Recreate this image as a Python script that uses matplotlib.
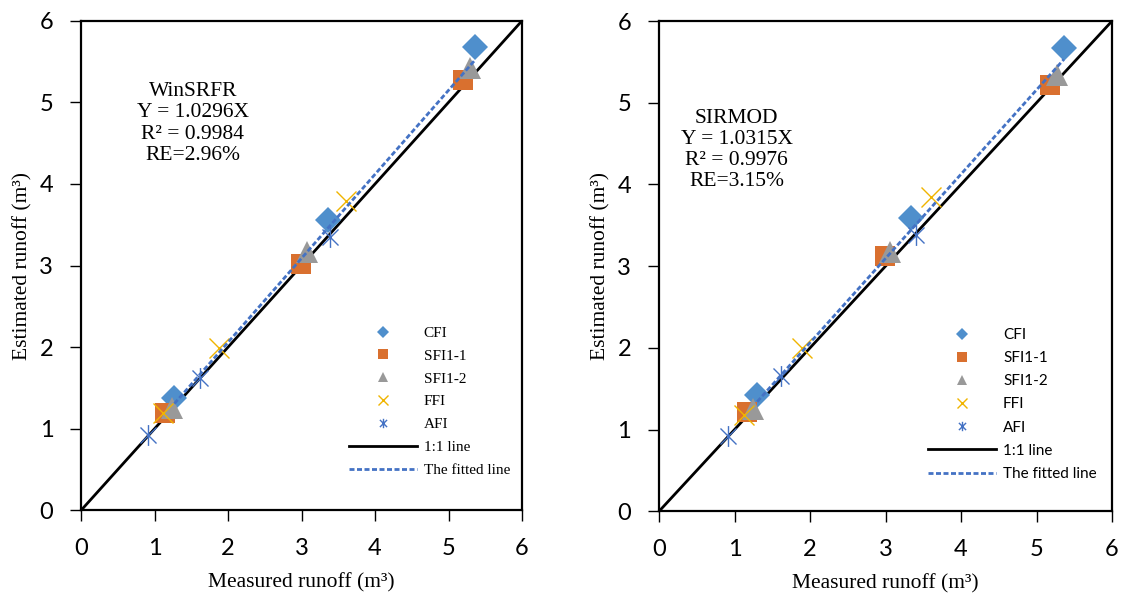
import matplotlib
matplotlib.use("Agg")
import matplotlib.pyplot as plt
from matplotlib.path import Path
import numpy as np

# 測定値と推定値 (m3)
cfi_w_x = [1.27, 3.36, 5.36]
cfi_w_y = [1.38, 3.56, 5.68]
sfi11_w_x = [1.14, 2.99, 5.20]
sfi11_w_y = [1.19, 3.02, 5.27]
sfi12_w_x = [1.24, 3.08, 5.29]
sfi12_w_y = [1.26, 3.16, 5.42]
ffi_w_x = [1.12, 1.88, 3.60]
ffi_w_y = [1.19, 1.99, 3.79]
afi_w_x = [0.91, 1.62, 3.39]
afi_w_y = [0.92, 1.62, 3.35]

cfi_s_x = [1.30, 3.34, 5.36]
cfi_s_y = [1.42, 3.59, 5.67]
sfi11_s_x = [1.16, 2.99, 5.18]
sfi11_s_y = [1.21, 3.12, 5.22]
sfi12_s_x = [1.25, 3.06, 5.27]
sfi12_s_y = [1.25, 3.17, 5.34]
ffi_s_x = [1.13, 1.90, 3.60]
ffi_s_y = [1.18, 2.00, 3.85]
afi_s_x = [0.92, 1.62, 3.41]
afi_s_y = [0.92, 1.65, 3.38]

slope_w = 1.0296
slope_s = 1.0315
ticks = [0, 1, 2, 3, 4, 5, 6]

serif = "Liberation Serif"
sans = "Lato"

# Excel風のアスタリスク (x + 縦線)
star = Path([(-1, -1), (1, 1), (-1, 1), (1, -1), (0, -1.3), (0, 1.3)],
            [Path.MOVETO, Path.LINETO, Path.MOVETO, Path.LINETO, Path.MOVETO, Path.LINETO])


def draw(ax, d, slope, note, note_xy, legend_font, legend_anchor):
    cfi_x, cfi_y, s1x, s1y, s2x, s2y, fx, fy, ax_, ay = d
    ax.plot(cfi_x, cfi_y, "D", color="#4F8FCC", ms=13, mew=0, label="CFI", zorder=3)
    ax.plot(s1x, s1y, "s", color="#D9702F", ms=15, mew=0, label="SFI1-1", zorder=3)
    ax.plot(s2x, s2y, "^", color="#999999", ms=16, mew=0, label="SFI1-2", zorder=3)
    ax.plot(fx, fy, "x", color="#F0B400", ms=15, mew=1.0, label="FFI", zorder=4)
    ax.plot(ax_, ay, marker=star, ls="none", color="#4472C4", ms=15, mew=1.0,
            label="AFI", zorder=4)
    ax.plot([0, 6], [0, 6], color="black", lw=2.0, label="1:1 line", zorder=2)
    fx_line = np.array([min(cfi_x), max(cfi_x)])
    ax.plot(fx_line, slope * fx_line, color="#4472C4", lw=2.0, ls=(0, (1.8, 0.9)),
            label="The fitted line", zorder=5)

    ax.set_xlim(0, 6)
    ax.set_ylim(0, 6)
    ax.set_xticks(ticks)
    ax.set_yticks(ticks)
    ax.tick_params(direction="out", length=8, width=1.0, labelsize=17, pad=12)
    for lab in ax.get_xticklabels() + ax.get_yticklabels():
        lab.set_fontfamily(sans)
    for sp in ax.spines.values():
        sp.set_linewidth(1.6)

    ax.set_xlabel("Measured runoff (m\u00b3)", fontfamily=serif, fontsize=15.5, labelpad=10)
    ax.set_ylabel("Estimated runoff (m\u00b3)", fontfamily=serif, fontsize=15.5, labelpad=5)

    ax.text(note_xy[0], note_xy[1], note, fontfamily=serif, fontsize=15.5, ha="center",
            va="center", multialignment="center", linespacing=1.15)

    leg = ax.legend(loc="lower right", bbox_to_anchor=legend_anchor, frameon=False,
                    prop={"family": legend_font, "size": 11}, handlelength=4.45,
                    labelspacing=0.6, markerscale=0.45, handletextpad=0.45,
                    borderpad=0, borderaxespad=0)
    return leg


fig = plt.figure(figsize=(11.21, 5.99), dpi=100)
ax1 = fig.add_axes([0.0723, 0.148, 0.3934, 0.8174])
ax2 = fig.add_axes([0.5879, 0.1464, 0.4041, 0.8185])

draw(ax1, [cfi_w_x, cfi_w_y, sfi11_w_x, sfi11_w_y, sfi12_w_x, sfi12_w_y,
           ffi_w_x, ffi_w_y, afi_w_x, afi_w_y],
     slope_w, "WinSRFR\nY = 1.0296X\nR\u00b2 = 0.9984\nRE=2.96%", (1.52, 4.74),
     serif, (0.973, 0.068))
draw(ax2, [cfi_s_x, cfi_s_y, sfi11_s_x, sfi11_s_y, sfi12_s_x, sfi12_s_y,
           ffi_s_x, ffi_s_y, afi_s_x, afi_s_y],
     slope_s, "SIRMOD\nY = 1.0315X\nR\u00b2 = 0.9976\nRE=3.15%", (1.03, 4.42),
     sans, (0.966, 0.062))

fig.savefig("out.png", dpi=100)
